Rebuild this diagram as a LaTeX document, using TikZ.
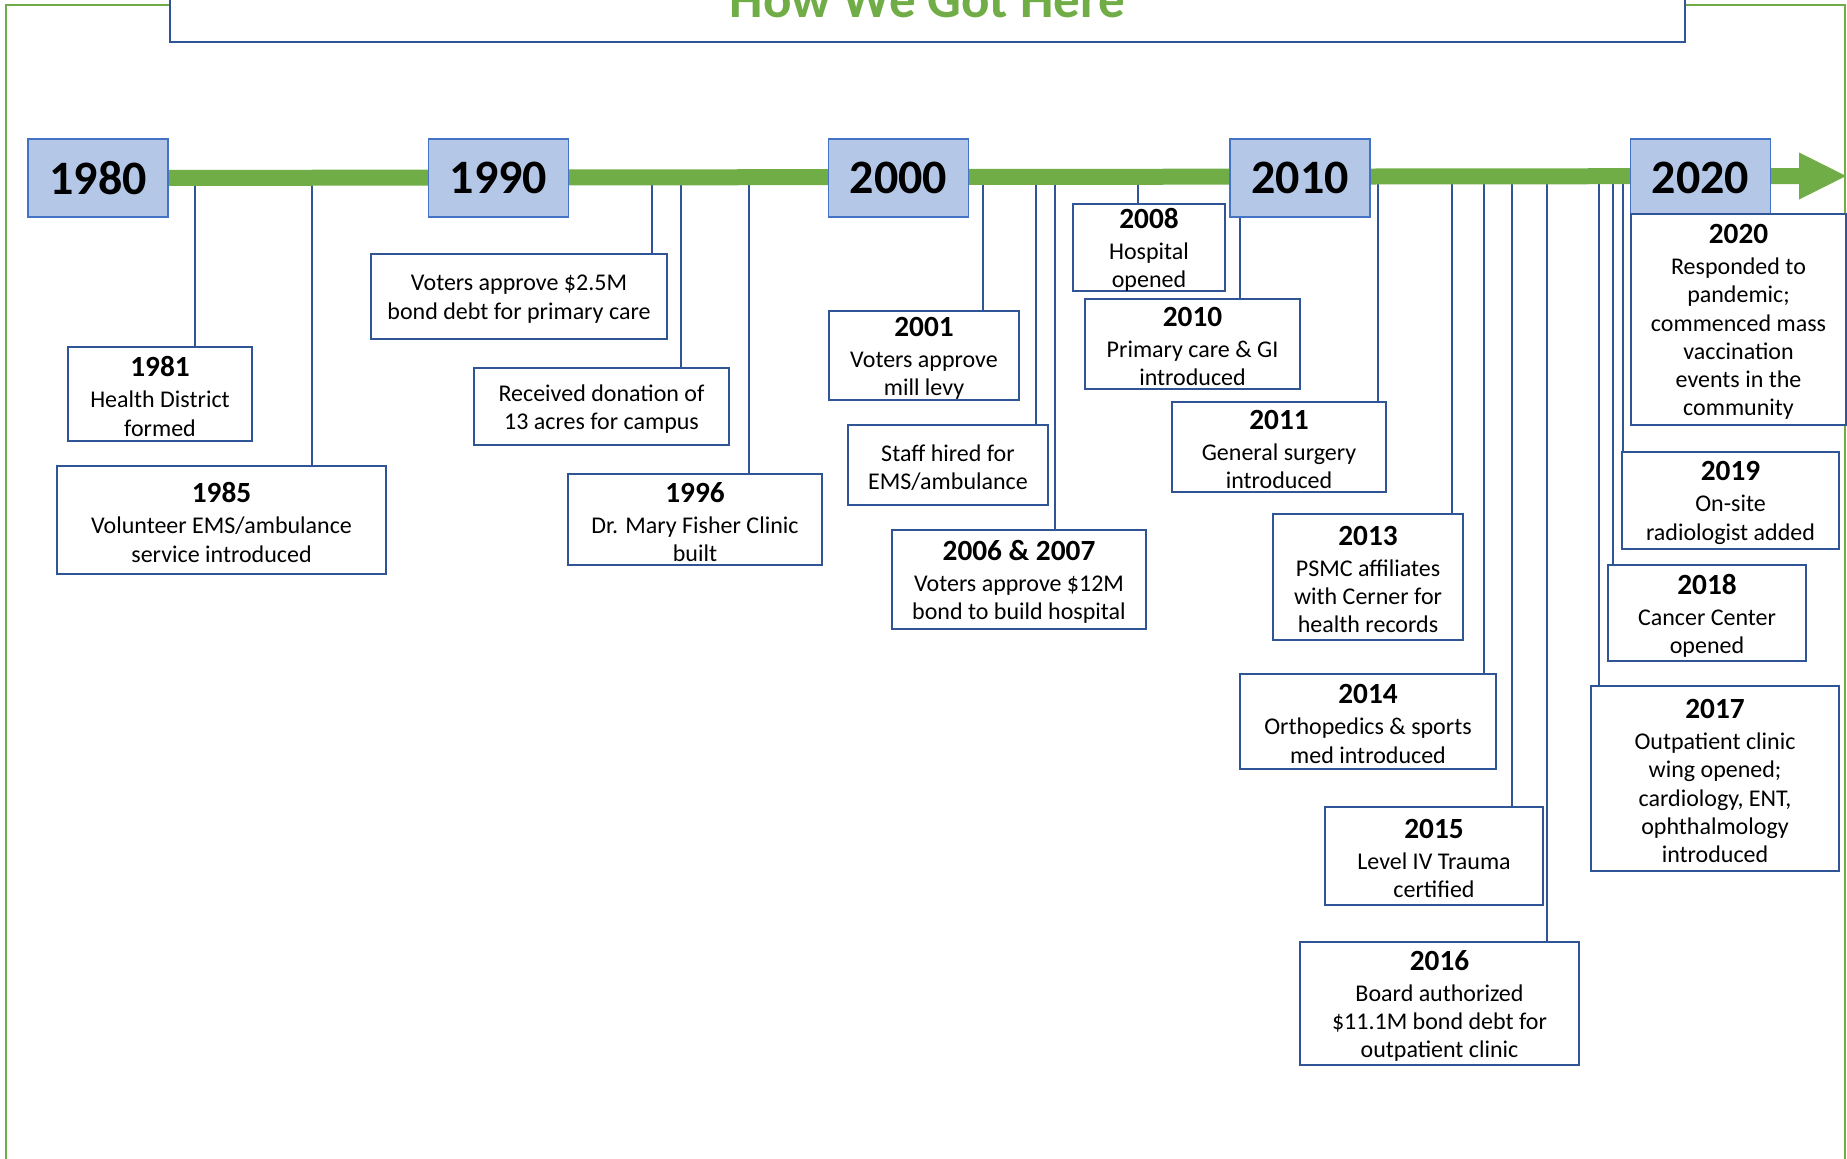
\documentclass[tikz,border=0pt]{standalone}
\usepackage{fontspec}
\setmainfont{Carlito}
\definecolor{gr}{HTML}{70AD47}
\definecolor{evblue}{HTML}{2F5597}
\definecolor{decfill}{HTML}{B4C7E7}
\definecolor{decline}{HTML}{4472C4}
\newcommand{\yr}[1]{{\fontsize{29.3}{29.3}\selectfont\bfseries #1}\\[2.7pt]}
\newcommand{\ev}[6]{\node[evbox, minimum width=#4pt, minimum height=#5pt, label={[evtext]center:{#6}}] (#1) at (#2,#3) {};}
\newcommand{\cn}[2]{\coordinate (b#1) at (#2,178); \draw[conn] (b#1) -- (b#1 |- #1.north);}
\begin{document}
\begin{tikzpicture}[x=1pt,y=-1pt,
  decade/.style={draw=decline, line width=1.5pt, fill=decfill, minimum width=140pt, minimum height=78pt, inner sep=0pt, font=\fontsize{48}{48}\selectfont\bfseries},
  evbox/.style={draw=evblue, line width=2.5pt, fill=white, inner sep=0pt},
  evtext/.style={align=center, font=\fontsize{24}{28.3}\selectfont, inner sep=0pt, yshift=-2.5pt},
  conn/.style={draw=evblue, line width=2pt},
  bar/.style={draw=gr, line width=16pt},
  frame/.style={draw=gr, line width=2pt}]
\useasboundingbox (0,0) rectangle (1847,1159);
\clip (0,0) rectangle (1847,1159);
% outer frame
\draw[frame] (170,5) -- (6,5) -- (6,1175);
\draw[frame] (1685,5) -- (1845,5) -- (1845,1175);
% title
\node[draw=evblue, line width=2.5pt, fill=white, minimum width=1515pt, minimum height=100pt, inner sep=0pt] (tbox) at (927.5,-8) {};
\node[anchor=base, text=gr, font=\fontsize{53}{53}\selectfont\bfseries, inner sep=0pt] (title) at (927.5,17) {How We Got Here};
% event boxes
\ev{e1981}{160}{394}{184}{94}{\yr{1981}Health District\\formed}
\ev{e1985}{221.5}{520}{329}{108}{\yr{1985}Volunteer EMS/ambulance\\service introduced}
\ev{ebond}{519}{296.5}{296}{85}{Voters approve \$2.5M\\bond debt for primary care}
\ev{eacres}{601.5}{406.5}{255}{77}{Received donation of\\13 acres for campus}
\ev{e1996}{695}{519.5}{254}{91}{\yr{1996}Dr. Mary Fisher Clinic\\built}
\ev{e2001}{924}{355.5}{190}{89}{\yr{2001}Voters approve\\mill levy}
\ev{estaff}{948}{465}{200}{80}{Staff hired for\\EMS/ambulance}
\ev{e2006}{1019}{579.5}{254}{99}{\yr{2006 \& 2007}Voters approve \$12M\\bond to build hospital}
\ev{e2008}{1149}{247.5}{152}{87}{\yr{2008}Hospital\\opened}
\ev{e2010}{1192.5}{344}{215}{90}{\yr{2010}Primary care \& GI\\introduced}
\ev{e2011}{1279}{447}{214}{90}{\yr{2011}General surgery\\introduced}
\ev{e2013}{1368}{577}{190}{126}{\yr{2013}PSMC affiliates\\with Cerner for\\health records}
\ev{e2014}{1368}{721.5}{256}{95}{\yr{2014}Orthopedics \& sports\\med introduced}
\ev{e2015}{1434}{856}{218}{98}{\yr{2015}Level IV Trauma\\certified}
\ev{e2016}{1439.5}{1003.5}{279}{123}{\yr{2016}Board authorized\\\$11.1M bond debt for\\outpatient clinic}
\ev{e2017}{1715}{778.5}{248}{185}{\yr{2017}Outpatient clinic\\wing opened;\\cardiology, ENT,\\ophthalmology\\introduced}
\ev{e2018}{1707}{613}{198}{96}{\yr{2018}Cancer Center\\opened}
\ev{e2019}{1730.5}{500.5}{217}{97}{\yr{2019}On-site\\radiologist added}
% connectors
\cn{e1981}{195}
\cn{e1985}{312}
\cn{ebond}{652}
\cn{eacres}{681}
\cn{e1996}{749}
\cn{e2001}{983}
\cn{estaff}{1036}
\cn{e2006}{1055}
\cn{e2008}{1137.5}
\cn{e2010}{1240}
\cn{e2011}{1377.5}
\cn{e2013}{1452}
\cn{e2014}{1484}
\cn{e2015}{1512}
\cn{e2016}{1547}
\cn{e2017}{1599}
\cn{e2018}{1613}
\cn{e2019}{1623}
% timeline bar and arrow
\coordinate (astart) at (98,178);
\coordinate (abase) at (1799,176);
\coordinate (atip) at (1846,176);
\draw[bar] (astart) -- (abase);
\fill[gr] ([yshift=23.5pt]abase) -- (atip) -- ([yshift=-23.5pt]abase) -- cycle;
% decade boxes
\node[decade] (d1980) at (98,178) {1980};
\node[decade] (d1990) at (498.5,178) {1990};
\node[decade] (d2000) at (898.5,178) {2000};
\node[decade] (d2010) at (1300,178) {2010};
\node[decade] (d2020) at (1700.5,178) {2020};
% 2020 event box
\ev{e2020}{1738.5}{319.5}{215}{211}{\yr{2020}Responded to\\pandemic;\\commenced mass\\vaccination\\events in the\\community}
\end{tikzpicture}
\end{document}
